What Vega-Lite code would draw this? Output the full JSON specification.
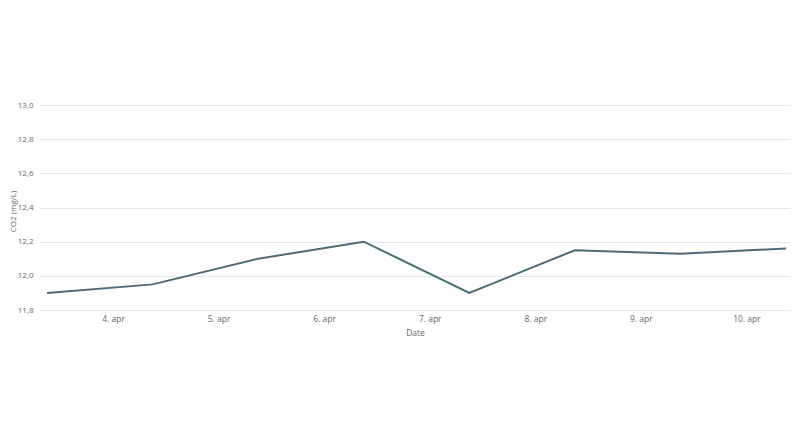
{
  "$schema": "https://vega.github.io/schema/vega-lite/v6.json",
  "autosize": "none",
  "width": 750,
  "height": 205,
  "padding": {"left": 40, "top": 105, "right": 10, "bottom": 124},
  "background": "white",
  "config": {"view": {"stroke": null}, "font": "Open Sans"},
  "data": {"values": [
    {"date": "2020-04-03T09:00:00Z", "co2": 11.90},
    {"date": "2020-04-04T09:00:00Z", "co2": 11.95},
    {"date": "2020-04-05T09:00:00Z", "co2": 12.10},
    {"date": "2020-04-06T09:00:00Z", "co2": 12.20},
    {"date": "2020-04-07T09:00:00Z", "co2": 11.90},
    {"date": "2020-04-08T09:00:00Z", "co2": 12.15},
    {"date": "2020-04-09T09:00:00Z", "co2": 12.13},
    {"date": "2020-04-10T09:00:00Z", "co2": 12.16}
  ]},
  "mark": {"type": "line", "color": "#4f6a77", "strokeWidth": 2, "interpolate": "linear"},
  "encoding": {
    "x": {
      "field": "date", "type": "temporal",
      "scale": {"type": "utc", "domain": [{"year": 2020, "month": 4, "date": 3, "hours": 7, "minutes": 24, "utc": true}, {"year": 2020, "month": 4, "date": 10, "hours": 9, "minutes": 54, "utc": true}], "nice": false},
      "axis": {
        "title": "Date",
        "values": [
          {"year": 2020, "month": 4, "date": 4, "utc": true},
          {"year": 2020, "month": 4, "date": 5, "utc": true},
          {"year": 2020, "month": 4, "date": 6, "utc": true},
          {"year": 2020, "month": 4, "date": 7, "utc": true},
          {"year": 2020, "month": 4, "date": 8, "utc": true},
          {"year": 2020, "month": 4, "date": 9, "utc": true},
          {"year": 2020, "month": 4, "date": 10, "utc": true}
        ],
        "labelExpr": "lower(utcFormat(datum.value, '%-d. %b'))",
        "grid": false, "ticks": false, "domain": false,
        "labelFontSize": 8.5, "labelColor": "#666666", "labelPadding": 4, "labelFont": "Open Sans",
        "titleFontSize": 8.5, "titleFontWeight": "normal", "titleColor": "#666666", "titlePadding": 6, "titleFont": "Open Sans"
      }
    },
    "y": {
      "field": "co2", "type": "quantitative",
      "scale": {"domain": [11.8, 13.0], "nice": false, "zero": false},
      "axis": {
        "title": "CO2 (mg/L)",
        "values": [11.8, 12.0, 12.2, 12.4, 12.6, 12.8, 13.0],
        "labelExpr": "replace(format(datum.value, '.1f'), '.', ',')",
        "grid": true, "gridColor": "#e6e6e6", "gridWidth": 1,
        "ticks": false, "domain": false,
        "labelFontSize": 8, "labelColor": "#666666", "labelPadding": 7, "labelFont": "Open Sans",
        "titleFontSize": 8, "titleFontWeight": "normal", "titleColor": "#666666", "titleX": -27, "titleY": 106, "titleAlign": "center", "titleBaseline": "middle", "titleFont": "Open Sans"
      }
    }
  }
}
